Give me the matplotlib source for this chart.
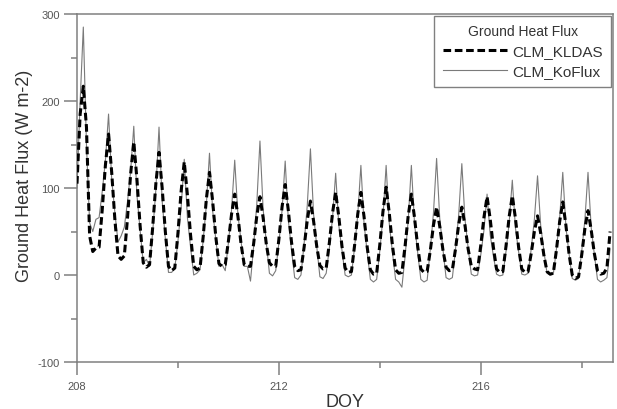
import numpy as np
import matplotlib
matplotlib.use('Agg')
import matplotlib.pyplot as plt
from matplotlib.ticker import MultipleLocator

plt.rcParams['font.family'] = ['Liberation Sans', 'DejaVu Sans']
plt.rcParams['axes.unicode_minus'] = False

step = 0.0625
kldas = [
    105, 185, 217, 170, 45, 27, 31, 32,
    75, 126, 162, 118, 64, 22, 18, 22,
    65, 116, 153, 110, 57, 14, 9, 12,
    55, 105, 141, 100, 50, 10, 5, 8,
    48, 96, 130, 92, 46, 10, 6, 8,
    44, 87, 118, 85, 44, 13, 10, 12,
    39, 70, 93, 68, 36, 12, 10, 10,
    36, 68, 90, 66, 36, 14, 10, 10,
    41, 78, 104, 74, 38, 10, 5, 6,
    32, 63, 85, 62, 33, 11, 7, 8,
    37, 71, 95, 67, 33, 8, 3, 4,
    34, 70, 95, 67, 32, 6, 1, 2,
    35, 73, 101, 71, 34, 6, 2, 3,
    33, 68, 93, 66, 33, 7, 3, 4,
    28, 57, 78, 56, 29, 9, 5, 6,
    30, 58, 78, 57, 30, 10, 7, 6,
    34, 66, 90, 64, 32, 7, 3, 4,
    33, 67, 91, 65, 32, 7, 3, 4,
    25, 50, 68, 48, 23, 4, 1, 2,
    29, 61, 84, 57, 24, 0, -4, -2,
    23, 53, 74, 52, 25, 5, 1, 2,
    8, 50,
]
koflux = [
    100, 200, 285, 150, 60, 50, 64, 66,
    96, 131, 185, 110, 72, 38, 45, 55,
    84, 119, 171, 92, 52, 14, 18, 10,
    50, 98, 170, 85, 42, 3, 3, 8,
    39, 77, 133, 66, 32, 0, 2, 6,
    40, 80, 140, 74, 41, 10, 12, 5,
    37, 75, 132, 70, 39, 10, 10, -7,
    33, 82, 154, 76, 38, 2, -1, 5,
    37, 74, 131, 63, 29, -3, -5, 0,
    36, 80, 145, 70, 33, -2, -4, 2,
    31, 65, 117, 57, 28, 0, -2, 0,
    32, 69, 126, 59, 26, -5, -8, -5,
    28, 67, 126, 59, 26, -5, -8, -14,
    21, 63, 126, 59, 26, -5, -8, -6,
    29, 71, 134, 65, 30, -3, -5, -3,
    30, 69, 128, 64, 31, 1, -1, 0,
    23, 51, 93, 46, 22, 1, -1, 0,
    27, 60, 109, 54, 27, 1, 0, 2,
    30, 64, 114, 57, 28, 2, 0, 1,
    30, 65, 118, 55, 24, -4, -6, -4,
    27, 63, 118, 55, 24, -5, -8, -6,
    -3, 30,
]
doy = 208 + step * np.arange(len(kldas))

x_major = [208, 212, 216]
y_major = [-100, 0, 100, 200, 300]

grey = '#808080'
fig = plt.figure(figsize=(6.17, 4.10), dpi=100)
ax = fig.add_axes([0.1248, 0.1146, 0.8687, 0.8488])

ax.plot(doy, koflux, color='#7a7a7a', lw=0.8, label='CLM_KoFlux', zorder=2)
ax.plot(doy, kldas, color='black', lw=2.2, dashes=(2.5, 1.2), label='CLM_KLDAS', zorder=3)

ax.set_xlim(208, 218.62)
ax.set_ylim(-100, 300)
ax.set_xticks(x_major)
ax.set_yticks(y_major)
ax.xaxis.set_minor_locator(MultipleLocator(2))
ax.yaxis.set_minor_locator(MultipleLocator(50))

for s in ax.spines.values():
    s.set_color(grey)
    s.set_linewidth(1.1)
ax.tick_params(which='major', direction='out', length=9.5, width=1.1, color=grey,
               labelsize=8, labelcolor='#555555')
ax.tick_params(which='minor', direction='out', length=4.5, width=1.1, color=grey)
ax.tick_params(axis='y', pad=3)
ax.tick_params(axis='x', pad=4)

ax.set_xlabel('DOY', fontsize=13, color='#333333')
ax.set_ylabel('Ground Heat Flux (W m-2)', fontsize=13, color='#333333')
ax.xaxis.set_label_coords(0.5, -0.088)
ax.yaxis.set_label_coords(-0.082, 0.537)

handles, labels = ax.get_legend_handles_labels()
leg = ax.legend(handles[::-1], labels[::-1], loc='upper right', title='Ground Heat Flux',
                fontsize=11, title_fontsize=10, fancybox=False, framealpha=1,
                edgecolor=grey, borderaxespad=0.12, handlelength=4.2,
                handletextpad=0.35, labelspacing=0.4, borderpad=0.55)
leg.get_frame().set_linewidth(1.0)
for t in leg.get_texts():
    t.set_color('#333333')
leg.get_title().set_color('#333333')

fig.savefig('out.png', dpi=100)
